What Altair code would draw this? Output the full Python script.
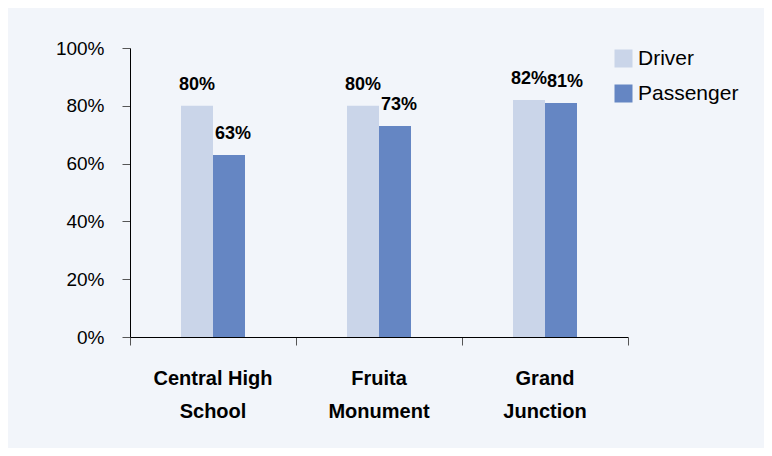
import altair as alt
import pandas as pd

categories = ["Central High School", "Fruita Monument", "Grand Junction"]
cat_lines = [["Central High", "School"], ["Fruita", "Monument"], ["Grand", "Junction"]]
series = ["Driver", "Passenger"]
driver = [80, 80, 82]
passenger = [63, 73, 81]
colors = ["#cad5e9", "#6586c3"]

rows = []
for i, c in enumerate(categories):
    rows.append({"cat": c, "series": "Driver", "value": driver[i]})
    rows.append({"cat": c, "series": "Passenger", "value": passenger[i]})
df = pd.DataFrame(rows)

FONT = "Liberation Sans Narrow, Arial Narrow, Liberation Sans, sans-serif"

label_expr = "".join(
    f"datum.value == '{c}' ? {l!r} : " for c, l in zip(categories, cat_lines)
) + "datum.value"

x_scale = alt.Scale(paddingInner=0, paddingOuter=0)

x_enc = alt.X(
    "cat:N",
    sort=categories,
    title=None,
    scale=x_scale,
    axis=alt.Axis(
        bandPosition=0,
        labelAngle=0,
        labelExpr=label_expr,
        labelFont=FONT,
        labelFontSize=20,
        labelFontWeight="bold",
        labelColor="#000000",
        labelLineHeight=33,
        labelPadding=23,
        tickSize=8,
        tickColor="#555555",
        domainColor="#000000",
        orient="bottom",
    ),
)

y_axis = alt.Axis(
    values=[0, 20, 40, 60, 80, 100],
    labelExpr="datum.value + '%'",
    labelFont=FONT,
    labelFontSize=19,
    labelColor="#000000",
    labelPadding=18,
    tickSize=8,
    tickColor="#555555",
    domainColor="#000000",
    grid=False,
)

y_enc = alt.Y(
    "value:Q",
    title=None,
    scale=alt.Scale(domain=[0, 100], nice=False),
    axis=y_axis,
)

xoff = alt.XOffset(
    "series:N", sort=series,
    scale=alt.Scale(paddingInner=0, paddingOuter=0, range=[51, 115]),
)

bars = alt.Chart(df).mark_bar().encode(
    x=x_enc,
    y=y_enc,
    xOffset=xoff,
    color=alt.Color(
        "series:N",
        sort=series,
        scale=alt.Scale(domain=series, range=colors),
        legend=alt.Legend(
            title=None,
            orient="none",
            legendX=483,
            legendY=0,
            padding=0,
            symbolType="square",
            symbolSize=324,
            symbolStrokeWidth=0,
            labelFont=FONT,
            labelFontSize=21,
            labelColor="#000000",
            labelOffset=4,
            rowPadding=13,
        ),
    ),
)

end_tick_axis = alt.Axis(
    orient="bottom",
    values=[categories[-1]],
    bandPosition=1,
    labels=False,
    domain=False,
    tickSize=8,
    tickColor="#555555",
)


def label_layer(name, dx, axis):
    return (
        alt.Chart(df)
        .transform_filter(alt.datum.series == name)
        .transform_calculate(label="datum.value + '%'")
        .mark_text(
            font=FONT, fontSize=18, fontWeight="bold", color="#000000",
            baseline="alphabetic", dy=-16, dx=dx,
        )
        .encode(
            x=alt.X("cat:N", sort=categories, title=None, scale=x_scale, axis=axis),
            y=alt.Y("value:Q", title=None, axis=y_axis),
            xOffset=xoff,
            text=alt.Text("label:N"),
        )
    )


text_d = label_layer("Driver", 0, end_tick_axis)
text_p = label_layer("Passenger", 4, None)

chart = (
    alt.layer(bars, text_d, text_p)
    .resolve_axis(x="independent")
    .properties(
        width=498,
        height=289,
        background="#f2f5fa",
        autosize=alt.AutoSizeParams(type="none"),
        padding={"left": 122, "top": 40, "right": 136, "bottom": 111},
    )
    .configure_view(stroke=None)
)

chart.save("out.html", embed_options={"renderer": "svg", "actions": False})
